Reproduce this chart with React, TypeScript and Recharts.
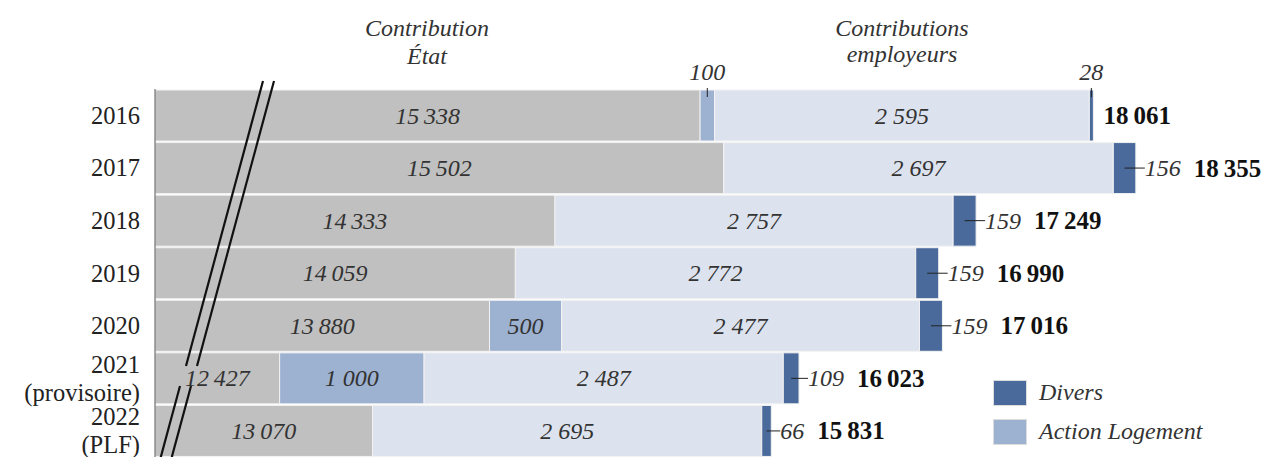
import { Bar, BarChart, LabelList, XAxis, YAxis } from 'recharts';

const years = ['2016', '2017', '2018', '2019', '2020', '2021\n(provisoire)', '2022\n(PLF)'];
const etat = [15338, 15502, 14333, 14059, 13880, 12427, 13070];
const actionLogement = [100, 0, 0, 0, 500, 1000, 0];
const employeurs = [2595, 2697, 2757, 2772, 2477, 2487, 2695];
const divers = [28, 156, 159, 159, 159, 109, 66];
const totals = [18061, 18355, 17249, 16990, 17016, 16023, 15831];

// axis is broken: the state bar starts around 11 564
const AXIS_START = 11564;
const AXIS_END = 19180;

const PLOT_LEFT = 155;
const TOP = 89;
const FS = 24;
const FS_BOLD = 25;
const FS_YEAR = 24.5;
const FONT = '"Liberation Serif", "DejaVu Serif", serif';
const TXT = '#333';

const GREY = '#C0C0C0';
const AL = '#9DB1D1';
const EMP = '#DDE3EE';
const DIV = '#4A6A9B';

const fmt = (v: number) => {
  const s = String(v);
  if (s.length <= 3) return s;
  const sep = v >= 10000 ? '\u2009' : ' ';
  return s.slice(0, s.length - 3) + sep + s.slice(-3);
};

const data = years.map((year, i) => ({
  year,
  etat: etat[i],
  actionLogement: actionLogement[i],
  employeurs: employeurs[i],
  divers: divers[i],
}));

const EtatLabel = (props: any) => {
  const x = Number(props.x);
  const w = Number(props.width);
  const left = Math.max(x, PLOT_LEFT);
  const cx = (left + x + w) / 2;
  const cy = Number(props.y) + Number(props.height) / 2;
  return (
    <text x={cx} y={cy} textAnchor="middle" dominantBaseline="central" fontStyle="italic" fontSize={FS} fontFamily={FONT} fill={TXT}>
      {fmt(props.value)}
    </text>
  );
};

const CenterLabel = (props: any) => {
  const v = Number(props.value);
  if (!v) return null;
  const x = Number(props.x);
  const w = Number(props.width);
  const y = Number(props.y);
  const cx = x + w / 2;
  if (w < 30) {
    return (
      <g>
        <line x1={cx} x2={cx} y1={y - 2} y2={y + 7} stroke="#222" strokeWidth={1} />
        <text x={cx} y={80} textAnchor="middle" fontStyle="italic" fontSize={FS} fontFamily={FONT} fill={TXT}>
          {fmt(v)}
        </text>
      </g>
    );
  }
  return (
    <text x={cx} y={y + Number(props.height) / 2} textAnchor="middle" dominantBaseline="central" fontStyle="italic" fontSize={FS} fontFamily={FONT} fill={TXT}>
      {fmt(v)}
    </text>
  );
};

const DiversLabel = (props: any) => {
  const v = Number(props.value);
  const x = Number(props.x);
  const w = Number(props.width);
  const y = Number(props.y);
  const cy = y + Number(props.height) / 2;
  const cx = x + w / 2;
  const end = x + w;
  const total = totals[props.index] ?? 0;
  if (v < 50) {
    return (
      <g>
        <line x1={cx} x2={cx} y1={y - 2} y2={y + 7} stroke="#222" strokeWidth={1} />
        <text x={cx} y={80} textAnchor="middle" fontStyle="italic" fontSize={FS} fontFamily={FONT} fill={TXT}>
          {v}
        </text>
        <text x={end + 10} y={cy} dominantBaseline="central" fontWeight="bold" fontSize={FS_BOLD} fontFamily={FONT} fill="#111">
          {fmt(total)}
        </text>
      </g>
    );
  }
  const tw = String(v).length * FS * 0.5;
  return (
    <g>
      <line x1={cx} x2={end + 9} y1={cy} y2={cy} stroke="#222" strokeWidth={1} />
      <text x={end + 9} y={cy} dominantBaseline="central" fontStyle="italic" fontSize={FS} fontFamily={FONT} fill={TXT}>
        {v}
      </text>
      <text x={end + 9 + tw + 13} y={cy} dominantBaseline="central" fontWeight="bold" fontSize={FS_BOLD} fontFamily={FONT} fill="#111">
        {fmt(total)}
      </text>
    </g>
  );
};

const YearTick = (props: any) => {
  const { y, payload } = props;
  const lines = String(payload.value).split('\n');
  const lh = 28;
  return (
    <text textAnchor="end" fontSize={FS_YEAR} fontFamily={FONT} fill="#222">
      {lines.map((l, i) => (
        <tspan key={i} x={140} y={Number(y) + (i - (lines.length - 1) / 2) * lh} dominantBaseline="central">
          {l}
        </tspan>
      ))}
    </text>
  );
};

const legendItems = [
  { label: 'Divers', color: DIV },
  { label: 'Action Logement', color: AL },
];

export default function App() {
  return (
    <div style={{ position: 'absolute', left: 0, top: 0, width: 1264, height: 457, background: '#fff', overflow: 'hidden' }}>
      <BarChart
        width={1264}
        height={457}
        data={data}
        layout="vertical"
        margin={{ top: TOP, right: 9, bottom: 0, left: 0 }}
        barCategoryGap={1}
      >
        <XAxis type="number" domain={[AXIS_START, AXIS_END]} allowDataOverflow hide />
        <YAxis
          type="category"
          dataKey="year"
          width={PLOT_LEFT}
          tickLine={false}
          axisLine={{ stroke: '#555' }}
          tick={<YearTick />}
          interval={0}
        />
        <Bar dataKey="etat" stackId="a" fill={GREY} stroke="#f2f2f2" strokeWidth={1} isAnimationActive={false}>
          <LabelList dataKey="etat" content={<EtatLabel />} />
        </Bar>
        <Bar dataKey="actionLogement" stackId="a" fill={AL} stroke="#f2f2f2" strokeWidth={1} isAnimationActive={false}>
          <LabelList dataKey="actionLogement" content={<CenterLabel />} />
        </Bar>
        <Bar dataKey="employeurs" stackId="a" fill={EMP} stroke="#f2f2f2" strokeWidth={1} isAnimationActive={false}>
          <LabelList dataKey="employeurs" content={<CenterLabel />} />
        </Bar>
        <Bar dataKey="divers" stackId="a" fill={DIV} stroke="#f2f2f2" strokeWidth={1} isAnimationActive={false}>
          <LabelList dataKey="divers" content={<DiversLabel />} />
        </Bar>
      </BarChart>
      <svg width={1264} height={457} style={{ position: 'absolute', left: 0, top: 0, pointerEvents: 'none' }}>
        <g fontFamily={FONT} fontSize={FS} fontStyle="italic" fill={TXT} textAnchor="middle">
          <text x={427} y={36}>Contribution</text>
          <text x={427} y={64}>État</text>
          <text x={902} y={36}>Contributions</text>
          <text x={902} y={62}>employeurs</text>
        </g>
        <g stroke="#111" strokeWidth={2.2}>
          <line x1={263} y1={81} x2={186} y2={366} />
          <line x1={180} y1={386} x2={160} y2={460} />
          <line x1={274} y1={81} x2={197} y2={366} />
          <line x1={191} y1={386} x2={171} y2={460} />
        </g>
      </svg>
      <div style={{ position: 'absolute', left: 993, top: 373, fontFamily: FONT, fontSize: FS, fontStyle: 'italic', color: TXT }}>
        {legendItems.map((it) => (
          <div key={it.label} style={{ display: 'flex', alignItems: 'center', height: 39 }}>
            <span style={{ width: 34, height: 26, background: it.color, border: '1px solid #ddd', marginRight: 12, boxSizing: 'border-box' }} />
            <span>{it.label}</span>
          </div>
        ))}
      </div>
    </div>
  );
}
